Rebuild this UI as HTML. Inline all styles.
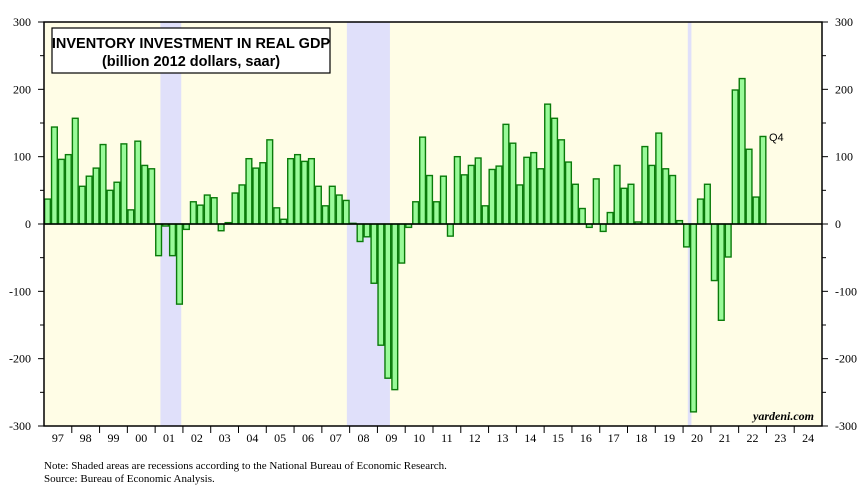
<!DOCTYPE html>
<html><head><meta charset="utf-8"><style>
body{margin:0;background:#fff;width:868px;height:486px;overflow:hidden;font-family:"Liberation Serif",serif}
</style></head><body>
<svg id="c" width="868" height="486" xmlns="http://www.w3.org/2000/svg">
<rect x="44" y="22" width="778" height="404" fill="#fffde6"/>
<g id="rec"></g><g id="bars"></g><g id="axes"></g>
<rect x="52" y="28" width="278" height="45" fill="#fff" stroke="#000" stroke-width="1.2"/>
<text x="191" y="48" text-anchor="middle" font-family="Liberation Sans" font-weight="bold" font-size="14.5">INVENTORY INVESTMENT IN REAL GDP</text>
<text x="191" y="66" text-anchor="middle" font-family="Liberation Sans" font-weight="bold" font-size="14.5">(billion 2012 dollars, saar)</text>
<text x="769" y="141" font-family="Liberation Sans" font-size="11">Q4</text>
<text x="814" y="420" text-anchor="end" font-style="italic" font-weight="bold" font-size="12">yardeni.com</text>
<text x="44" y="469" font-size="11">Note: Shaded areas are recessions according to the National Bureau of Economic Research.</text>
<text x="44" y="482" font-size="11">Source: Bureau of Economic Analysis.</text>
</svg>
<script>
const startYear = 1997;
const values = [37,144,96,103, 157,56,71,83, 118,50,62,119, 21,123,87,82,
 -47,-3,-47,-119, -8,33,28,43, 39,-10,2,46, 58,97,83,91, 125,24,7,97,
 103,93,97,56, 27,56,43,35, 1,-26,-19,-88, -180,-229,-246,-58,
 -5,33,129,72, 33,71,-18,100, 73,87,98,27, 81,86,148,120,
 58,99,106,82, 178,157,125,92, 59,23,-5,67, -11,17,87,53,
 59,3,115,87, 135,82,72,5, -34,-279,37,59, -84,-143,-49,199, 216,111,40,130];
const yTicks = [300,200,100,0,-100,-200,-300];
const yearLabels = ["97","98","99","00","01","02","03","04","05","06","07","08","09","10","11","12","13","14","15","16","17","18","19","20","21","22","23","24"];
const recessions = [[2001.19,2001.94],[2007.9,2009.45],[2020.17,2020.3]];
const X0=44,X1=822,Y0=22,Y1=426;
const yw=(X1-X0)/28;
const xs=t=>X0+(t-startYear)*yw;
const ys=v=>224-(v)*(404/600);
const NS="http://www.w3.org/2000/svg";
function mk(tag,at,parent){const e=document.createElementNS(NS,tag);for(const k in at)e.setAttribute(k,at[k]);document.getElementById(parent).appendChild(e);return e;}
recessions.forEach(r=>{const e=mk('rect',{x:xs(r[0]),y:Y0,width:xs(r[1])-xs(r[0]),height:Y1-Y0,fill:'#e0e0fa'},'rec');

});
values.forEach((v,i)=>{const x=xs(startYear+i/4);const y=Math.min(ys(v),ys(0));const h=Math.abs(ys(v)-ys(0));
const e=mk('rect',{x:x+0.6,y:y,width:yw/4-1.2,height:Math.max(h,0.5),fill:'#99fa99',stroke:'#0a7a0a','stroke-width':1.4},'bars');

});
mk('line',{x1:X0,x2:X1,y1:ys(0),y2:ys(0),stroke:'#000','stroke-width':1.5},'axes');
mk('rect',{x:X0,y:Y0,width:X1-X0,height:Y1-Y0,fill:'none',stroke:'#000','stroke-width':1.5},'axes');
for(let v=-300;v<=300;v+=50){const y=ys(v);const L=v%100===0?6:4;
mk('line',{x1:X0-L,x2:X0,y1:y,y2:y,stroke:'#000'},'axes');mk('line',{x1:X1,x2:X1+L,y1:y,y2:y,stroke:'#000'},'axes');}
yTicks.forEach(v=>{const y=ys(v)+4;
const a=mk('text',{x:X0-13,y:y,'text-anchor':'end','font-size':12},'axes');a.textContent=v;


const b=mk('text',{x:X1+13,y:y,'font-size':12},'axes');b.textContent=v;

});
yearLabels.forEach((l,i)=>{const x=xs(startYear+i);
if(i>0)mk('line',{x1:x,x2:x,y1:Y1,y2:Y1+7,stroke:'#000'},'axes');
const t=mk('text',{x:x+yw/2,y:Y1+16,'text-anchor':'middle','font-size':12},'axes');t.textContent=l;

});
</script>
</body></html>
